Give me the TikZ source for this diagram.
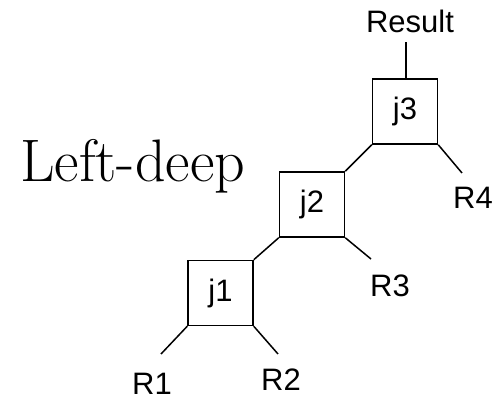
\documentclass[tikz,border=0pt]{standalone}
\usepackage{fontspec}
\newfontfamily\arialfont{Liberation Sans}
\begin{document}
\begin{tikzpicture}[x=1pt,y=-1pt,
  joinbox/.style={draw,line width=1.5pt,minimum width=65pt,minimum height=65pt,inner sep=0pt,font=\arialfont\fontsize{31}{34}\selectfont},
  rel/.style={inner sep=0pt,font=\arialfont\fontsize{31}{34}\selectfont},
  edge/.style={line width=1.5pt}]
\useasboundingbox (0,0) rectangle (496,403);
\node[inner sep=0pt,anchor=base west,font=\fontsize{60}{66}\selectfont] (title) at (20,182) {Left-deep};
\node[joinbox] (j1) at (220.5,293) {j1};
\node[joinbox] (j2) at (312,204.5) {j2};
\node[joinbox] (j3) at (405,111.5) {j3};
\node[rel] (R1) at (152,384) {R1};
\node[rel] (R2) at (281,380) {R2};
\node[rel] (R3) at (390,286) {R3};
\node[rel] (R4) at (473,198) {R4};
\node[rel] (res) at (410,21) {Result};
\coordinate (e1) at (161,354);
\coordinate (e2) at (278,354);
\coordinate (e3) at (371,259);
\coordinate (e4) at (462,173);
\coordinate (e5) at (406,42);
\draw[edge] (j1.south west) -- (e1);
\draw[edge] (j1.south east) -- (e2);
\draw[edge] (j1.north east) -- (j2.south west);
\draw[edge] (j2.south east) -- (e3);
\draw[edge] (j2.north east) -- (j3.south west);
\draw[edge] (j3.south east) -- (e4);
\draw[edge] (j3.north) ++(1,0) coordinate (j3t) (j3t) -- (e5);
\end{tikzpicture}
\end{document}
